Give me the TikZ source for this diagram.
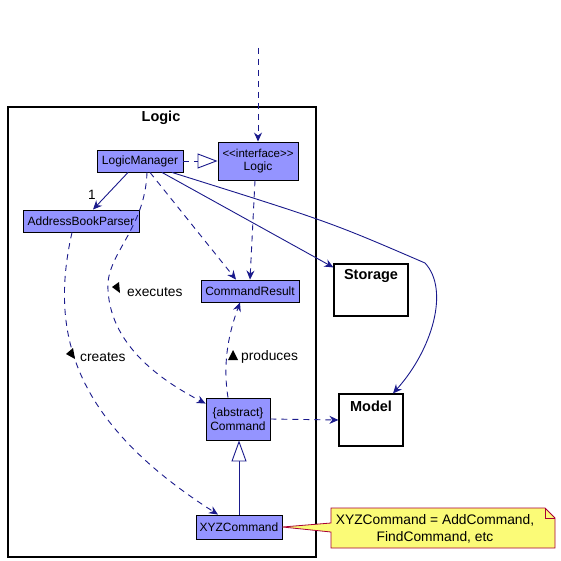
\documentclass[tikz,border=0pt]{standalone}
\usepackage{fontspec}
\setmainfont{Liberation Sans}
\usetikzlibrary{arrows.meta,calc}
\definecolor{boxfill}{HTML}{9494FF}
\definecolor{ln}{HTML}{1A1A8C}
\definecolor{notefill}{HTML}{FBFB77}
\definecolor{noteline}{HTML}{A80036}
\tikzset{
  cls/.style={draw=black, fill=boxfill, line width=0.9pt, inner sep=0pt, align=center, font=\fontsize{12}{13.5}\selectfont},
  pkg/.style={draw=black, line width=1.2pt, fill=white, inner sep=0pt},
  ttl/.style={font=\bfseries\fontsize{14.5}{16}\selectfont, inner sep=0pt},
  conn/.style={draw=ln, line width=0.9pt},
  dsh/.style={conn, dash pattern=on 6pt off 5pt},
  tip/.style={-{Stealth[length=9pt,width=8pt,inset=3pt]}},
  lbl/.style={font=\fontsize{13.8}{15}\selectfont, inner sep=0pt, anchor=west},
  dirmark/.style={fill=black}
}
\begin{document}
\begin{tikzpicture}[x=1pt,y=-1pt]
\useasboundingbox (0,0) rectangle (561,561);
% frame
\node[pkg, minimum width=308pt, minimum height=450pt] (frame) at (162,332) {};
\node[ttl] (frametitle) at (161,118) {Logic};
% boxes
\node[cls, minimum width=86pt, minimum height=22pt] (lm) at (140,161) {LogicManager};
\node[cls, minimum width=80pt, minimum height=38pt] (logic) at (258,161) {\fontsize{11.5}{13}\selectfont{<}{<}interface{>}{>}\\Logic};
\node[cls, minimum width=116pt, minimum height=22pt] (abp) at (81,221) {AddressBookParser};
\node[cls, minimum width=98pt, minimum height=22pt] (cr) at (250,291) {CommandResult};
\node[cls, minimum width=64pt, minimum height=42pt] (cmd) at (238,419) {\{abstract\}\\Command};
\node[cls, minimum width=86pt, minimum height=24pt] (xyz) at (239,527) {XYZCommand};
\node[pkg, minimum width=74pt, minimum height=52pt] (storage) at (371,290) {};
\node[ttl] (storagettl) at (371,276) {Storage};
\node[pkg, minimum width=64pt, minimum height=52pt] (model) at (371,420) {};
\node[ttl] (modelttl) at (371,406) {Model};
% note
\coordinate (n1) at (331,508);
\coordinate (n2) at (545,508);
\coordinate (n3) at (555,518);
\coordinate (n4) at (555,548);
\coordinate (n5) at (331,548);
\coordinate (nw1) at (331,523);
\coordinate (nw2) at (331,532);
\draw[noteline, fill=notefill, line width=0.8pt] (n1) -- (n2) -- (n3) -- (n4) -- (n5) -- (nw2) -- (xyz.east) -- (nw1) -- cycle;
\draw[noteline, line width=0.8pt] (n2) -- (n2 |- n3) -- (n3);
\node[font=\fontsize{13.8}{17}\selectfont, align=center, inner sep=0pt] (note) at (435,528.5) {XYZCommand = AddCommand,\\FindCommand, etc};
% connectors
\coordinate (top) at (258,48);
\draw[dsh, tip] (top) -- (logic.north);
\draw[dsh, -{Triangle[open, length=20pt, width=15pt, fill=white]}] (lm.east) -- (logic.west);
\draw[conn, tip] ([xshift=-12pt]lm.south) -- ([xshift=12pt]abp.north) node[pos=0.6, left=11pt, font=\fontsize{13.5}{14}\selectfont, inner sep=0pt, text=black] {1};
\draw[dsh, tip] ([xshift=10pt]lm.south) -- ([xshift=-14pt]cr.north);
\draw[dsh, tip] ([xshift=-3pt]logic.south) -- (cr.north);
\draw[conn, tip] ([xshift=22pt]lm.south) -- ([yshift=-4pt]storage.north west);
\draw[conn, tip] ([xshift=32pt]lm.south) .. controls (330,222) .. (425,263) .. controls (450,290) and (432,350) .. ([xshift=22pt]model.north);
\draw[dsh, tip] ([xshift=7pt]lm.south) .. controls (145,230) and (105,255) .. (108,290) .. controls (111,350) and (170,385) .. ([yshift=-6pt]cmd.north west);
\draw[dsh, tip] ([xshift=-9pt]abp.south) .. controls (50,330) and (70,420) .. ([xshift=-21pt]xyz.north);
\draw[dsh, tip] ([xshift=-10pt]cmd.north) .. controls (222,360) and (230,330) .. ([xshift=-10pt]cr.south);
\draw[dsh, tip] (cmd.east) -- (model.west);
\draw[conn, -{Triangle[open, length=21pt, width=15pt, fill=white]}] (xyz.north) -- (xyz.north |- cmd.south);
% labels
\fill[dirmark] (112,287) -- (119,282) -- (120,293) -- cycle;
\node[lbl] (l1) at (127,292) {executes};
\fill[dirmark] (66,354) -- (73,348) -- (75,359) -- cycle;
\node[lbl] (l2) at (80,357) {creates};
\fill[dirmark] (228,360) -- (233,350) -- (238,360) -- cycle;
\node[lbl] (l3) at (241,357) {produces};
\end{tikzpicture}
\end{document}
